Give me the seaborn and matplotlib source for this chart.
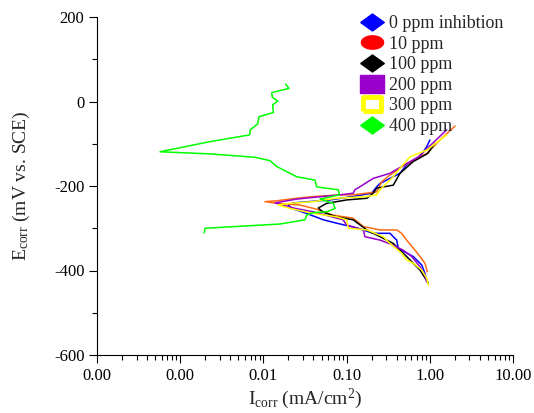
import numpy as np
import pandas as pd
import matplotlib
matplotlib.use("Agg")
import matplotlib.pyplot as plt
import seaborn as sns
from matplotlib.lines import Line2D
from matplotlib.ticker import FixedLocator, LogLocator, FuncFormatter, NullFormatter

# ---- data (I in mA/cm2, E in mV vs SCE) ----
labels = ["0 ppm inhibtion", "10 ppm", "100 ppm", "200 ppm", "300 ppm", "400 ppm"]

i_0 = [0.918, 0.875, 0.800, 0.634, 0.418, 0.400, 0.332, 0.209, 0.137, 0.076, 0.0525, 0.0331, 0.0219,
       0.0199, 0.0227, 0.0631, 0.126, 0.200, 0.230, 0.252, 0.438, 0.527, 0.762, 0.918, 1.005]
e_0 = [-422, -407, -387, -367, -348, -328, -312, -312, -300, -288, -280, -265, -253,
       -245, -240, -233, -224, -217, -202, -194, -170, -150, -131, -107, -91]

i_10 = [0.933, 0.875, 0.762, 0.664, 0.527, 0.459, 0.400, 0.252, 0.159, 0.119, 0.0687, 0.0437, 0.0275,
        0.01445, 0.01045, 0.01445, 0.0251, 0.0394, 0.0834, 0.119, 0.230, 0.264, 0.332, 0.503, 0.918,
        1.327, 2.01]
e_10 = [-403, -383, -367, -352, -328, -312, -304, -304, -296, -276, -269, -255, -245,
        -241, -237, -235, -229, -225, -221, -221, -214, -190, -174, -150, -123, -91, -58]

i_100 = [0.959, 0.762, 0.527, 0.364, 0.175, 0.120, 0.0760, 0.0521, 0.0457, 0.0577, 0.100, 0.175,
         0.209, 0.230, 0.364, 0.438, 0.634, 0.944, 1.155]
e_100 = [-430, -399, -367, -336, -304, -280, -273, -262, -252, -241, -233, -229,
         -217, -205, -198, -170, -142, -123, -99]

i_200 = [0.918, 0.875, 0.762, 0.606, 0.480, 0.364, 0.252, 0.166, 0.159, 0.100, 0.0906, 0.0394,
         0.0240, 0.01378, 0.0251, 0.0398, 0.0834, 0.120, 0.126, 0.209, 0.332, 0.727, 1.597]
e_200 = [-427, -411, -391, -367, -352, -340, -328, -320, -304, -292, -280, -261,
         -253, -240, -231, -227, -221, -217, -209, -182, -170, -131, -67]

i_300 = [0.959, 0.918, 0.800, 0.634, 0.527, 0.459, 0.332, 0.276, 0.175, 0.105, 0.100, 0.076, 0.0398,
         0.0209, 0.01497, 0.0209, 0.0398, 0.076, 0.175, 0.230, 0.252, 0.364, 0.438, 0.578, 0.918, 1.597]
e_300 = [-434, -418, -399, -383, -375, -359, -336, -320, -304, -300, -280, -273, -265,
         -253, -245, -241, -237, -229, -225, -221, -209, -178, -158, -131, -115, -79]

i_400 = [0.0185, 0.0203, 0.0126, 0.0128, 0.0149, 0.0129, 0.0132, 0.00885, 0.00854, 0.00696, 0.00684,
         0.00228, 0.000572, 0.00228, 0.00792, 0.0120, 0.0145, 0.0251, 0.0417, 0.0437, 0.0794, 0.0817,
         0.0479, 0.0692, 0.0726, 0.0577, 0.0398, 0.0331, 0.0316, 0.01585, 0.00199, 0.00194]
e_400 = [41, 31, 21, 10, 1, -8, -26, -36, -53, -67, -79,
         -95, -119, -124, -132, -140, -154, -178, -186, -202, -209, -221,
         -231, -241, -253, -261, -263, -269, -280, -290, -300, -311]

x_ticks = [0.0001, 0.001, 0.01, 0.1, 1, 10]
y_ticks = [-600, -400, -200, 0, 200]

series_i = [i_0, i_10, i_100, i_200, i_300, i_400]
series_e = [e_0, e_10, e_100, e_200, e_300, e_400]

line_colors = ["#0000ff", "#ff6a10", "#000000", "#9900cc", "#ffff00", "#00ff00"]

frames = []
for lab, xi, ye in zip(labels, series_i, series_e):
    frames.append(pd.DataFrame({"I": xi, "E": ye, "series": lab, "k": np.arange(len(xi))}))
df = pd.concat(frames, ignore_index=True)

# ---- style ----
sns.set_style("ticks")
plt.rcParams["font.family"] = ["Liberation Serif", "DejaVu Serif"]
plt.rcParams["mathtext.fontset"] = "custom"
plt.rcParams["mathtext.rm"] = "Liberation Serif"
plt.rcParams["mathtext.it"] = "Liberation Serif:italic"
plt.rcParams["axes.unicode_minus"] = False

fig = plt.figure(figsize=(5.34, 4.13), dpi=100)
ax = fig.add_axes([97 / 534, 1 - 355 / 413, (513 - 97) / 534, (355 - 17) / 413])

sns.lineplot(data=df, x="I", y="E", hue="series", hue_order=labels, palette=line_colors,
             sort=False, estimator=None, units="series", legend=False, linewidth=1.1, ax=ax)

ax.set_xscale("log")
ax.set_xlim(1e-4, 10)
ax.set_ylim(-600, 200)
ax.xaxis.set_major_locator(FixedLocator(x_ticks))
ax.xaxis.set_major_formatter(FuncFormatter(lambda v, p: f"{v:.2f}"))
ax.xaxis.set_minor_locator(LogLocator(base=10, subs=np.arange(2, 10), numticks=20))
ax.xaxis.set_minor_formatter(NullFormatter())
ax.yaxis.set_major_locator(FixedLocator(y_ticks))
ax.yaxis.set_minor_locator(FixedLocator([-500, -300, -100, 100]))

for s in ["top", "right"]:
    ax.spines[s].set_visible(False)
for s in ["left", "bottom"]:
    ax.spines[s].set_color("black")
    ax.spines[s].set_linewidth(0.8)

ax.tick_params(axis="both", which="major", direction="out", length=6, width=0.8,
               colors="black", labelsize=12, pad=3)
ax.tick_params(axis="both", which="minor", direction="out", length=3.5, width=0.8, colors="black")

ax.set_xlabel(r"I$_{\mathrm{corr}}$ (mA/cm$^{2}$)", fontsize=14, labelpad=2)
ax.set_ylabel(r"E$_{\mathrm{corr}}$ (mV vs. SCE)", fontsize=14, labelpad=16)

# ---- legend ----
diamond = [(-1, 0), (0, 0.72), (1, 0), (0, -0.72), (-1, 0)]
theta = np.linspace(0, 2 * np.pi, 40)
ellipse = list(zip(np.cos(theta), 0.6 * np.sin(theta)))
rect = [(-1, -0.74), (1, -0.74), (1, 0.74), (-1, 0.74), (-1, -0.74)]

handles = [
    Line2D([], [], linestyle="None", marker=diamond, markersize=17, color="#0000ff"),
    Line2D([], [], linestyle="None", marker=ellipse, markersize=16, color="#ff0000"),
    Line2D([], [], linestyle="None", marker=diamond, markersize=17, color="#000000"),
    Line2D([], [], linestyle="None", marker=rect, markersize=17, color="#9900cc"),
    Line2D([], [], linestyle="None", marker=rect, markersize=13.5, markerfacecolor="white",
           markeredgecolor="#ffff00", markeredgewidth=3.5),
    Line2D([], [], linestyle="None", marker=diamond, markersize=17, color="#00ff00"),
]
fig.legend(handles, labels, loc="upper left", bbox_to_anchor=(358 / 534, 1 - 15 / 413),
           frameon=False, fontsize=13, handlelength=1.5, handletextpad=0.2,
           labelspacing=0.2, borderpad=0, borderaxespad=0)

fig.savefig("out.png", dpi=100)
